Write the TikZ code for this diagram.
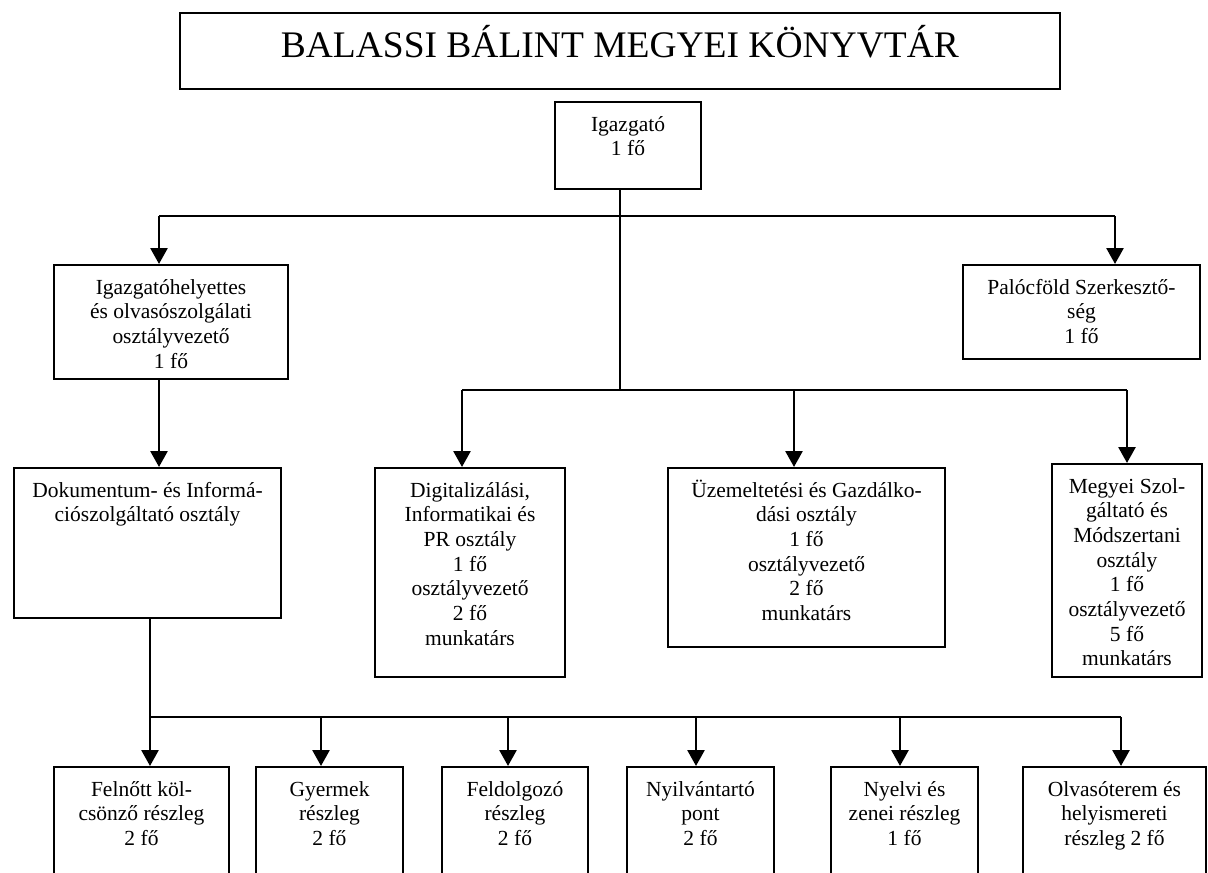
\documentclass[tikz,border=0pt]{standalone}
\usepackage{fontspec}
\setmainfont{Liberation Serif}
\usetikzlibrary{arrows.meta}
\newcommand{\unitcell}[4][29]{\parbox[t][#3pt][t]{#2pt}{\centering\rule{0pt}{#1pt}#4}}

\begin{document}
\begin{tikzpicture}[x=1pt,y=-1pt,
	box/.style={draw,line width=2pt,inner sep=0pt,anchor=north west,font=\fontsize{21.5}{24.7}\selectfont},
	bus/.style={line width=2.4pt},
	link/.style={line width=1.6pt},
	arrow/.style={line width=2.7pt,-{Triangle[length=16pt,width=17pt]}}]
	\useasboundingbox (0,0) rectangle (1208,873);
	\node[box,line width=1.8pt,font=\fontsize{37.5}{44}\selectfont] (title) at (179,12) {\unitcell[45]{880}{76}{BALASSI BÁLINT MEGYEI KÖNYVTÁR}};
	\node[box] (igazgato) at (554,101) {\unitcell{146}{87}{Igazgató\\1 fő}};
	\node[box] (helyettes) at (53,264) {\unitcell{234}{114}{Igazgatóhelyettes\\és olvasószolgálati\\osztályvezető\\1 fő}};
	\node[box] (paloc) at (962,264) {\unitcell{237}{94}{Palócföld Szerkesztő-\\ség\\1 fő}};
	\node[box] (dok) at (13,467) {\unitcell{267}{150}{Dokumentum- és Informá-\\ciószolgáltató osztály}};
	\node[box] (digi) at (374,467) {\unitcell{190}{209}{Digitalizálási,\\Informatikai és\\PR osztály\\1 fő\\osztályvezető\\2 fő\\munkatárs}};
	\node[box] (uzem) at (667,467) {\unitcell{277}{179}{Üzemeltetési és Gazdálko-\\dási osztály\\1 fő\\osztályvezető\\2 fő\\munkatárs}};
	\node[box] (megyei) at (1051,463) {\unitcell{150}{213}{Megyei Szol-\\gáltató és\\Módszertani\\osztály\\1 fő\\osztályvezető\\5 fő\\munkatárs}};
	\node[box] (felnott) at (53,766) {\unitcell{175}{140}{Felnőtt köl-\\csönző részleg\\2 fő}};
	\node[box] (gyermek) at (255,766) {\unitcell{147}{140}{Gyermek\\részleg\\2 fő}};
	\node[box] (feldolg) at (441,766) {\unitcell{146}{140}{Feldolgozó\\részleg\\2 fő}};
	\node[box] (nyilv) at (626,766) {\unitcell{147}{140}{Nyilvántartó\\pont\\2 fő}};
	\node[box] (nyelvi) at (830,766) {\unitcell{147}{140}{Nyelvi és\\zenei részleg\\1 fő}};
	\node[box] (olvaso) at (1022,766) {\unitcell{183}{140}{Olvasóterem és\\helyismereti\\részleg 2 fő}};

	\coordinate (tl) at (159,216);
	\coordinate (tm) at (620,216);
	\coordinate (tr) at (1115,216);
	\coordinate (ml) at (462,390);
	\coordinate (mm) at (620,390);
	\coordinate (mu) at (794,390);
	\coordinate (mr) at (1127,390);
	\coordinate (bl) at (150,717);
	\coordinate (br) at (1121,717);

	\draw[link] (igazgato.south -| tm) -- (mm);
	\draw[bus] (tl) -- (tr);
	\draw[link] (ml) -- (mr);
	\draw[arrow] (tl) -- (tl |- helyettes.north);
	\draw[arrow] (tr) -- (tr |- paloc.north);
	\draw[arrow] (tl |- helyettes.south) -- (tl |- dok.north);
	\draw[arrow] (ml) -- (ml |- digi.north);
	\draw[arrow] (mu) -- (mu |- uzem.north);
	\draw[arrow] (mr) -- (mr |- megyei.north);
	\draw[bus] (bl |- dok.south) -- (bl) -- (br);
	\foreach \n/\x in {felnott/150,gyermek/321,feldolg/508,nyilv/696,nyelvi/900,olvaso/1121}{
		\coordinate (b-\n) at (\x,717);
		\draw[arrow] (b-\n) -- (b-\n |- \n.north);
	}
\end{tikzpicture}
\end{document}
